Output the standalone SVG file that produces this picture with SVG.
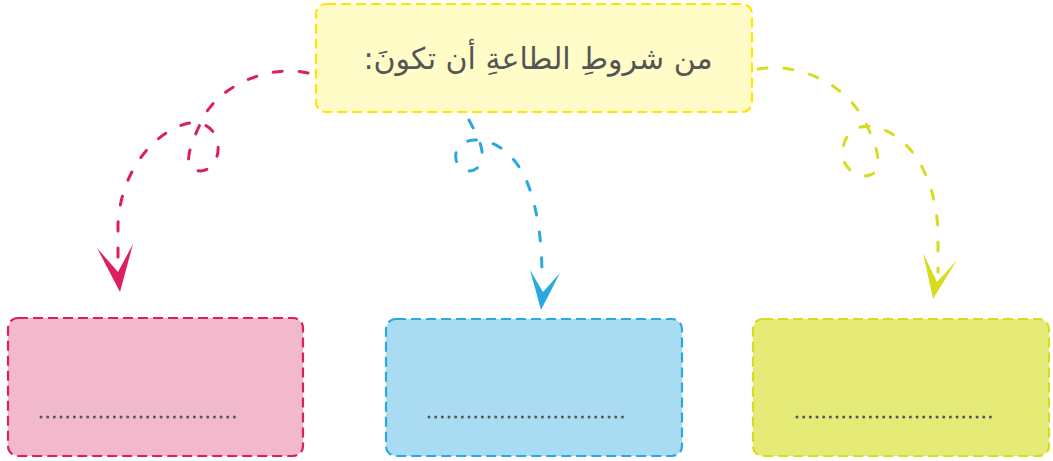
<svg xmlns="http://www.w3.org/2000/svg" width="1053" height="461" viewBox="0 0 1053 461">
<style>
.box{stroke-width:2.2;stroke-dasharray:10 5;}
.conn{fill:none;stroke-width:3;stroke-linecap:round;stroke-dasharray:9 17;}
.dots{fill:none;stroke:#555;stroke-width:3;stroke-linecap:round;stroke-dasharray:0 6.67;}
.title{font-family:"DejaVu Sans","Noto Sans",sans-serif;font-size:30px;fill:#555;}
</style>
<rect width="1053" height="461" fill="#fff"/>
<g id="top">
<rect class="box" x="316" y="4" width="436" height="108" rx="10" fill="#fffcc8" stroke="#ffe600"/>
<text class="title" x="538" y="69" text-anchor="middle" direction="rtl">من شروطِ الطاعةِ أن تكونَ:</text>
</g>
<g id="pink">
<rect class="box" x="8" y="318" width="295" height="138" rx="10" fill="#f2b9cc" stroke="#dc1f5e"/>
<line class="dots" x1="41" y1="417" x2="241" y2="417"/>
</g>
<g id="blue">
<rect class="box" x="386" y="319" width="296" height="137" rx="10" fill="#a9dcf2" stroke="#29a9e0"/>
<line class="dots" x1="429" y1="417" x2="629" y2="417"/>
</g>
<g id="green">
<rect class="box" x="753" y="319" width="296" height="137" rx="10" fill="#e6ea76" stroke="#d6dc1e"/>
<line class="dots" x1="797" y1="417" x2="997" y2="417"/>
</g>
<g id="connectors">
<path class="conn" stroke="#dc1f5e" d="M308,73 C270,64 220,85 203,118 C195,135 180,165 195,170 C210,175 222,158 217,140 C213,125 198,120 185,124 C150,135 120,175 118,225 L118,264"/>
<polygon fill="#dc1f5e" points="97,248 118,272 133,244 120,292"/>
<path class="conn" stroke="#29a9e0" d="M469,120 C475,132 484,145 482,160 C480,172 462,176 457,163 C452,150 462,140 475,140 C500,140 520,160 530,190 C538,215 542,240 542,280"/>
<polygon fill="#29a9e0" points="530,270 543,292 560,273 541,310"/>
<path class="conn" stroke="#d6dc1e" d="M758,69 C800,62 850,85 868,128 C876,145 885,170 870,175 C855,180 840,165 843,148 C846,130 860,124 875,127 C910,135 935,175 938,230 L938,272"/>
<polygon fill="#d6dc1e" points="923,253 937,282 957,260 933,299"/>
</g>
</svg>
